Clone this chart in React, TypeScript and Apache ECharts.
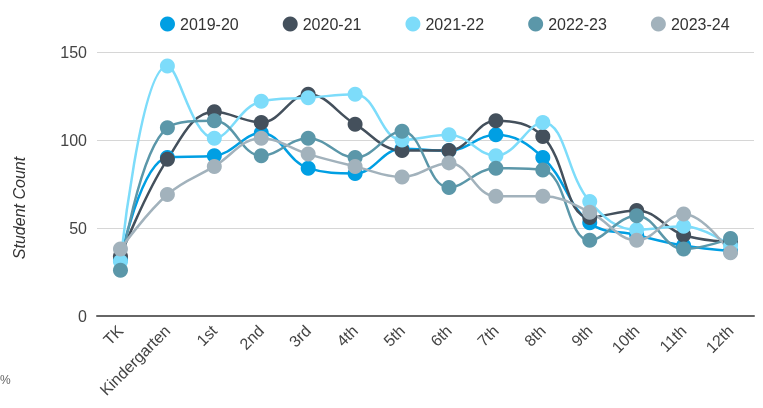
import React, { useEffect, useRef } from "react";
import * as echarts from "echarts";

const categories = ["TK", "Kindergarten", "1st", "2nd", "3rd", "4th", "5th", "6th", "7th", "8th", "9th", "10th", "11th", "12th"];
const seriesNames = ["2019-20", "2020-21", "2021-22", "2022-23", "2023-24"];
const s2019 = [32, 90, 91, 104, 84, 81, 95, 94, 103, 90, 53, 46, 40, 37];
const s2020 = [34, 89, 116, 110, 126, 109, 94, 94, 111, 102, 56, 60, 46, 42];
const s2021 = [31, 142, 101, 122, 124, 126, 100, 103, 91, 110, 65, 49, 51, 40];
const s2022 = [26, 107, 111, 91, 101, 90, 105, 73, 84, 83, 43, 57, 38, 44];
const s2023 = [38, 69, 85, 101, 92, 85, 79, 87, 68, 68, 59, 43, 58, 36];
const yTicks = { min: 0, max: 150, interval: 50 };
const colors = ["#009FE3", "#44505C", "#7DDCFA", "#5B97A9", "#A2B2BC"];

const FONT = "Liberation Sans, Arial, sans-serif";

export default function App() {
  const ref = useRef<HTMLDivElement>(null);
  useEffect(() => {
    if (!ref.current) return;
    const chart = echarts.init(ref.current, null, { renderer: "svg" });
    const data = [s2019, s2020, s2021, s2022, s2023];
    chart.setOption({
      animation: false,
      color: colors,
      textStyle: { fontFamily: FONT },
      legend: {
        data: seriesNames,
        left: 155,
        top: 11,
        icon: "circle",
        itemWidth: 15,
        itemHeight: 15,
        itemGap: 44,
        textStyle: { fontSize: 16, color: "#333", fontFamily: FONT },
      },
      grid: { left: 97, right: 9, top: 52, bottom: 92, containLabel: false },
      xAxis: {
        type: "category",
        data: categories,
        boundaryGap: true,
        axisLine: { lineStyle: { color: "#666", width: 2 } },
        axisTick: { show: false },
        axisLabel: { rotate: 45, fontSize: 16, color: "#444", margin: 12, interval: 0, fontFamily: FONT },
      },
      yAxis: {
        type: "value",
        min: yTicks.min,
        max: yTicks.max,
        interval: yTicks.interval,
        axisLine: { show: false },
        axisTick: { show: false },
        axisLabel: { fontSize: 16, color: "#444", margin: 10, fontFamily: FONT },
        splitLine: { lineStyle: { color: "#d6d6d6", width: 1 } },
      },
      graphic: [
        {
          type: "text",
          x: 19,
          y: 208,
          rotation: Math.PI / 2,
          style: {
            text: "Student Count",
            fontSize: 16,
            fontStyle: "italic",
            fill: "#333",
            fontFamily: FONT,
            align: "center",
            verticalAlign: "middle",
          },
        },
        {
          type: "text",
          x: 0,
          y: 374,
          style: { text: "%", fontSize: 12, fill: "#666", fontFamily: FONT },
        },
      ],
      series: seriesNames.map((name, i) => ({
        name,
        type: "line",
        data: data[i],
        smooth: 0.4,
        symbol: "circle",
        symbolSize: 15,
        lineStyle: { width: 2.5, color: colors[i] },
        itemStyle: { color: colors[i] },
        emphasis: { disabled: true },
      })),
    });
    return () => chart.dispose();
  }, []);
  return <div ref={ref} style={{ position: "fixed", left: 0, top: 0, width: 763, height: 408 }} />;
}
